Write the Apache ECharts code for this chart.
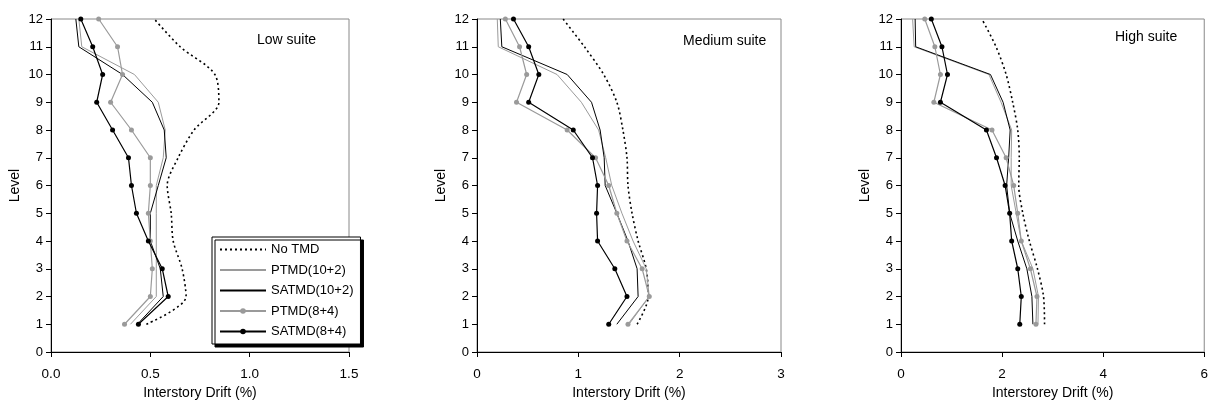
<!DOCTYPE html>
<html>
<head>
<meta charset="utf-8">
<script src="https://cdn.jsdelivr.net/npm/echarts@6/dist/echarts.min.js"></script>
<style>
html,body{margin:0;padding:0;background:#fff;}
#chart{width:1211px;height:405px;}
</style>
</head>
<body>
<div id="chart"></div>
<script>
const levels = [1,2,3,4,5,6,7,8,9,10,11,12];
const seriesNames = ['No TMD','PTMD(10+2)','SATMD(10+2)','PTMD(8+4)','SATMD(8+4)'];
const suiteTitles = ['Low suite','Medium suite','High suite'];
const xAxisNames = ['Interstory Drift (%)','Interstory Drift (%)','Interstorey Drift (%)'];
const xMax = [1.5, 3, 6];
const xInterval = [0.5, 1, 2];

// Low suite
const lowNoTMD     = [0.48, 0.68, 0.66, 0.615, 0.605, 0.585, 0.64, 0.72, 0.845, 0.825, 0.65, 0.52];
const lowPTMD102   = [0.40, 0.53, 0.53, 0.53, 0.53, 0.53, 0.565, 0.575, 0.54, 0.42, 0.155, 0.14];
const lowSATMD102  = [0.435, 0.565, 0.55, 0.50, 0.50, 0.54, 0.58, 0.57, 0.51, 0.36, 0.14, 0.125];
const lowPTMD84    = [0.37, 0.50, 0.51, 0.50, 0.49, 0.50, 0.50, 0.405, 0.30, 0.36, 0.335, 0.24];
const lowSATMD84   = [0.44, 0.59, 0.56, 0.49, 0.43, 0.405, 0.39, 0.31, 0.23, 0.26, 0.21, 0.15];
// Medium suite
const medNoTMD     = [1.58, 1.69, 1.67, 1.59, 1.53, 1.49, 1.48, 1.44, 1.38, 1.25, 1.06, 0.85];
const medPTMD102   = [1.50, 1.70, 1.67, 1.54, 1.43, 1.33, 1.27, 1.20, 1.03, 0.79, 0.21, 0.20];
const medSATMD102  = [1.38, 1.59, 1.58, 1.49, 1.38, 1.265, 1.255, 1.215, 1.13, 0.89, 0.245, 0.23];
const medPTMD84    = [1.49, 1.70, 1.63, 1.48, 1.38, 1.30, 1.17, 0.89, 0.39, 0.49, 0.42, 0.28];
const medSATMD84   = [1.30, 1.48, 1.36, 1.19, 1.18, 1.19, 1.14, 0.95, 0.51, 0.61, 0.51, 0.36];
// High suite
const highNoTMD    = [2.84, 2.82, 2.70, 2.54, 2.41, 2.33, 2.34, 2.31, 2.21, 2.08, 1.88, 1.60];
const highPTMD102  = [2.71, 2.72, 2.61, 2.38, 2.28, 2.18, 2.18, 2.19, 1.98, 1.74, 0.26, 0.23];
const highSATMD102 = [2.61, 2.59, 2.49, 2.31, 2.15, 2.09, 2.13, 2.16, 2.02, 1.77, 0.29, 0.28];
const highPTMD84   = [2.67, 2.69, 2.56, 2.38, 2.31, 2.23, 2.08, 1.80, 0.65, 0.78, 0.67, 0.47];
const highSATMD84  = [2.35, 2.38, 2.31, 2.19, 2.15, 2.06, 1.89, 1.69, 0.78, 0.92, 0.81, 0.60];

const panels = [
  [lowNoTMD, lowPTMD102, lowSATMD102, lowPTMD84, lowSATMD84],
  [medNoTMD, medPTMD102, medSATMD102, medPTMD84, medSATMD84],
  [highNoTMD, highPTMD102, highSATMD102, highPTMD84, highSATMD84]
];

const FONT = 'Liberation Sans, Arial, sans-serif';
const GREY = '#9a9a9a';
const grids = [
  {left: 51, top: 19, width: 298, height: 338},
  {left: 477, top: 19, width: 304, height: 337},
  {left: 901, top: 19, width: 305, height: 338}
];
const titlePos = [{left: 252, top: 28}, {left: 678, top: 29}, {left: 1110, top: 25}];

function styleFor(k) {
  switch (k) {
    case 0: return {lineStyle: {color: '#000', width: 1.6, type: [2, 3]}, symbol: 'none', smooth: 0.3, itemStyle: {color: '#000'}};
    case 1: return {lineStyle: {color: GREY, width: 1}, symbol: 'none', itemStyle: {color: GREY}};
    case 2: return {lineStyle: {color: '#000', width: 1}, symbol: 'none', itemStyle: {color: '#000'}};
    case 3: return {lineStyle: {color: GREY, width: 1.2}, symbol: 'circle', symbolSize: 5, itemStyle: {color: GREY}};
    case 4: return {lineStyle: {color: '#000', width: 1.2}, symbol: 'circle', symbolSize: 5, itemStyle: {color: '#000'}};
  }
}

const xAxes = [], yAxes = [], series = [], titles = [];
for (let p = 0; p < 3; p++) {
  xAxes.push({
    type: 'value', gridIndex: p, min: 0, max: xMax[p], interval: xInterval[p],
    name: xAxisNames[p], nameLocation: 'middle', nameGap: 34,
    nameTextStyle: {fontFamily: FONT, fontSize: 14, color: '#000'},
    axisLine: {show: true, lineStyle: {color: '#000', width: 1}},
    axisTick: {show: true, length: 5, lineStyle: {color: '#000'}},
    axisLabel: {fontFamily: FONT, fontSize: 13.5, color: '#000', margin: 15,
      formatter: p === 0 ? (v => v.toFixed(1)) : (v => String(v))},
    splitLine: {show: false}
  });
  yAxes.push({
    type: 'value', gridIndex: p, min: 0, max: 12, interval: 1,
    name: 'Level', nameLocation: 'middle', nameGap: 29, nameRotate: 90,
    nameTextStyle: {fontFamily: FONT, fontSize: 14, color: '#000'},
    axisLine: {show: true, lineStyle: {color: '#000', width: 1}},
    axisTick: {show: true, length: 5, lineStyle: {color: '#000'}},
    axisLabel: {fontFamily: FONT, fontSize: 13, color: '#000', margin: 8},
    splitLine: {show: false}
  });
  titles.push({
    text: suiteTitles[p], left: titlePos[p].left, top: titlePos[p].top,
    textStyle: {fontFamily: FONT, fontSize: 14, fontWeight: 'normal', color: '#000'}
  });
  for (let k = 0; k < 5; k++) {
    const st = styleFor(k);
    series.push(Object.assign({
      type: 'line', name: seriesNames[k], xAxisIndex: p, yAxisIndex: p,
      data: levels.map((lv, i) => [panels[p][k][i], lv]),
      animation: false, z: 2 + k, emphasis: {disabled: true}
    }, st));
  }
}

const chart = echarts.init(document.getElementById('chart'));
chart.setOption({
  animation: false,
  backgroundColor: '#fff',
  title: titles,
  grid: grids.map(g => Object.assign({show: true, borderColor: '#888', borderWidth: 1, backgroundColor: 'transparent'}, g)),
  xAxis: xAxes,
  yAxis: yAxes,
  legend: {
    data: seriesNames.map((n, k) => (k < 3 ? {name: n, itemStyle: {opacity: 0}} : {name: n})),
    orient: 'vertical', left: 212, top: 237,
    itemWidth: 46, itemHeight: 7, itemGap: 7.5, padding: [6, 7, 6, 7],
    backgroundColor: '#fff', borderColor: '#000', borderWidth: 1,
    shadowColor: '#000', shadowBlur: 0, shadowOffsetX: 3, shadowOffsetY: 3,
    textStyle: {fontFamily: FONT, fontSize: 13, color: '#000'},
    selectedMode: false
  },
  series: series
});
</script>
</body>
</html>
